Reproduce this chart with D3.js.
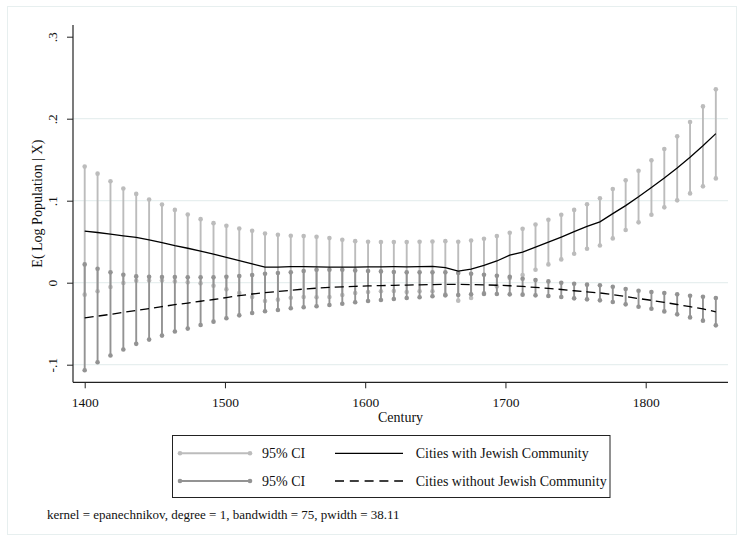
<!DOCTYPE html>
<html>
<head>
<meta charset="utf-8">
<script src="https://cdn.jsdelivr.net/npm/d3@7"></script>
<style>
  html, body { margin: 0; padding: 0; background: #fff; }
  svg { display: block; }
  svg text { font-family: 'Liberation Serif', 'DejaVu Serif', serif !important; fill: #111; }
</style>
</head>
<body>
<svg id="chart" width="743" height="541" font-family="Liberation Serif, DejaVu Serif, serif"></svg>
<script>
// Grid of evaluation points (century axis)
const years = [1400, 1409.18, 1418.37, 1427.55, 1436.73, 1445.92, 1455.10, 1464.29, 1473.47, 1482.65,
  1491.84, 1501.02, 1510.20, 1519.39, 1528.57, 1537.76, 1546.94, 1556.12, 1565.31, 1574.49,
  1583.67, 1592.86, 1602.04, 1611.22, 1620.41, 1629.59, 1638.78, 1647.96, 1657.14, 1666.33,
  1675.51, 1684.69, 1693.88, 1703.06, 1712.24, 1721.43, 1730.61, 1739.80, 1748.98, 1758.16,
  1767.35, 1776.53, 1785.71, 1794.90, 1804.08, 1813.27, 1822.45, 1831.63, 1840.82, 1850];

// Cities with Jewish Community: fitted mean and 95% CI (light grey)
const meanWith = [0.0630, 0.0612, 0.0592, 0.0572, 0.0552, 0.0522, 0.0490, 0.0452, 0.0420, 0.0386,
  0.0348, 0.0309, 0.0270, 0.0230, 0.0190, 0.0191, 0.0195, 0.0197, 0.0194, 0.0190,
  0.0190, 0.0191, 0.0193, 0.0194, 0.0195, 0.0193, 0.0196, 0.0198, 0.0183, 0.0142,
  0.0165, 0.0210, 0.0265, 0.0335, 0.0373, 0.0433, 0.0495, 0.0557, 0.0622, 0.0686,
  0.0742, 0.0842, 0.0940, 0.1048, 0.1162, 0.1278, 0.1400, 0.1530, 0.1670, 0.1818];
const ciHiWith = [0.1416, 0.1330, 0.1237, 0.1148, 0.1083, 0.1014, 0.0953, 0.0888, 0.0832, 0.0775,
  0.0726, 0.0694, 0.0661, 0.0633, 0.0600, 0.0584, 0.0572, 0.0568, 0.0560, 0.0544,
  0.0523, 0.0507, 0.0499, 0.0495, 0.0495, 0.0495, 0.0499, 0.0503, 0.0507, 0.0499,
  0.0515, 0.0536, 0.0568, 0.0609, 0.0657, 0.0710, 0.0767, 0.0828, 0.0888, 0.0957,
  0.1030, 0.1142, 0.1248, 0.1366, 0.1492, 0.1630, 0.1785, 0.1959, 0.2150, 0.2358];
const ciLoWith = [-0.0146, -0.0105, -0.0053, -0.0004, 0.0024, 0.0028, 0.0028, 0.0016, 0.0004, -0.0008,
  -0.0037, -0.0081, -0.0126, -0.0174, -0.0223, -0.0207, -0.0183, -0.0174, -0.0178, -0.0174,
  -0.0150, -0.0126, -0.0114, -0.0105, -0.0101, -0.0114, -0.0105, -0.0105, -0.0146, -0.0219,
  -0.0187, -0.0126, -0.0045, 0.0057, 0.0093, 0.0158, 0.0223, 0.0284, 0.0353, 0.0414,
  0.0454, 0.0540, 0.0642, 0.0736, 0.0829, 0.0919, 0.1004, 0.1089, 0.1175, 0.1272];

// Cities without Jewish Community: fitted mean and 95% CI (dark grey)
const meanWithout = [-0.0428, -0.0408, -0.0386, -0.0362, -0.0338, -0.0315, -0.0292, -0.0268, -0.0248, -0.0226,
  -0.0205, -0.0181, -0.0158, -0.0138, -0.0121, -0.0107, -0.0092, -0.0078, -0.0067, -0.0058,
  -0.0050, -0.0044, -0.0039, -0.0035, -0.0032, -0.0029, -0.0026, -0.0023, -0.0021, -0.0021,
  -0.0023, -0.0026, -0.0031, -0.0037, -0.0046, -0.0057, -0.0069, -0.0083, -0.0098, -0.0111,
  -0.0125, -0.0145, -0.0168, -0.0193, -0.0215, -0.0240, -0.0266, -0.0293, -0.0320, -0.0355];
const ciHiWithout = [0.0223, 0.0170, 0.0126, 0.0097, 0.0077, 0.0073, 0.0070, 0.0070, 0.0065, 0.0065,
  0.0065, 0.0073, 0.0081, 0.0093, 0.0110, 0.0118, 0.0126, 0.0142, 0.0158, 0.0158,
  0.0158, 0.0150, 0.0142, 0.0138, 0.0130, 0.0126, 0.0126, 0.0126, 0.0126, 0.0118,
  0.0110, 0.0097, 0.0085, 0.0073, 0.0049, 0.0032, 0.0016, 0.0000, -0.0012, -0.0024,
  -0.0032, -0.0049, -0.0077, -0.0098, -0.0114, -0.0126, -0.0142, -0.0159, -0.0171, -0.0187];
const ciLoWithout = [-0.1067, -0.0970, -0.0888, -0.0815, -0.0746, -0.0694, -0.0645, -0.0596, -0.0560, -0.0515,
  -0.0475, -0.0434, -0.0398, -0.0369, -0.0349, -0.0333, -0.0312, -0.0300, -0.0288, -0.0272,
  -0.0256, -0.0239, -0.0223, -0.0211, -0.0199, -0.0187, -0.0178, -0.0166, -0.0154, -0.0150,
  -0.0142, -0.0138, -0.0138, -0.0142, -0.0146, -0.0154, -0.0162, -0.0174, -0.0191, -0.0203,
  -0.0215, -0.0235, -0.0264, -0.0293, -0.0317, -0.0350, -0.0386, -0.0423, -0.0463, -0.0520];

const xTicks = [1400, 1500, 1600, 1700, 1800];
const yTicks = [-0.1, 0, 0.1, 0.2, 0.3];
const yTickLabels = ["-.1", "0", ".1", ".2", ".3"];
const legendLabels = ["95% CI", "Cities with Jewish Community", "95% CI", "Cities without Jewish Community"];
const yTitle = "E( Log Population | X)";
const xTitle = "Century";
const note = "kernel = epanechnikov, degree = 1, bandwidth = 75, pwidth = 38.11";

const lightGrey = "#bcbcbc";
const darkGrey = "#939393";
const gridColor = "#e7efef";
const FONT = "Liberation Serif, DejaVu Serif, serif";

const svg = d3.select("#chart");

// plot region
const plot = { left: 73, right: 728, top: 25, bottom: 382.3 };

const x = d3.scaleLinear().domain([1400, 1800]).range([84.7, 645.7]);
const y = d3.scaleLinear().domain([-0.1, 0.3]).range([364.7, 36.7]);

// outer graph-region frame
svg.append("rect")
  .attr("x", 7.5).attr("y", 6.5).attr("width", 729).attr("height", 528)
  .attr("fill", "none").attr("stroke", gridColor).attr("stroke-width", 1);

// gridlines (not at the top extreme)
svg.append("g").selectAll("line")
  .data(yTicks.filter(d => d < 0.25))
  .join("line")
  .attr("x1", plot.left).attr("x2", plot.right)
  .attr("y1", d => y(d)).attr("y2", d => y(d))
  .attr("stroke", gridColor).attr("stroke-width", 1.2);

// Y axis
const yAxis = d3.axisLeft(y).tickValues(yTicks)
  .tickFormat((d, i) => yTickLabels[i]).tickSize(6).tickSizeOuter(0);
const gy = svg.append("g").attr("transform", `translate(${plot.left},0)`).call(yAxis)
  .attr("font-family", FONT);
gy.select(".domain").remove();
gy.selectAll(".tick line").attr("stroke", "#222").attr("stroke-width", 1);
gy.selectAll(".tick text")
  .attr("font-family", FONT)
  .attr("font-size", 13.5)
  .attr("fill", "#222")
  .attr("x", 0).attr("dy", null)
  .attr("text-anchor", "middle")
  .attr("dominant-baseline", "central")
  .attr("transform", "translate(-21,0) rotate(-90)");
svg.append("line")
  .attr("x1", plot.left).attr("x2", plot.left)
  .attr("y1", plot.top).attr("y2", plot.bottom)
  .attr("stroke", "#222").attr("stroke-width", 1.2);

// X axis
const xAxis = d3.axisBottom(x).tickValues(xTicks).tickFormat(d3.format("d")).tickSize(6).tickSizeOuter(0);
const gx = svg.append("g").attr("transform", `translate(0,${plot.bottom})`).call(xAxis)
  .attr("font-family", FONT);
gx.select(".domain").remove();
gx.selectAll(".tick line").attr("stroke", "#222").attr("stroke-width", 1);
gx.selectAll(".tick text")
  .attr("font-family", FONT)
  .attr("font-size", 13.5)
  .attr("fill", "#222")
  .attr("y", 20).attr("dy", "0.32em");
svg.append("line")
  .attr("x1", plot.left).attr("x2", plot.right)
  .attr("y1", plot.bottom).attr("y2", plot.bottom)
  .attr("stroke", "#222").attr("stroke-width", 1.2);

// axis titles
svg.append("text")
  .attr("transform", `translate(37,${(plot.top + plot.bottom) / 2}) rotate(-90)`)
  .attr("text-anchor", "middle").attr("dominant-baseline", "central")
  .attr("font-family", FONT).attr("font-size", 14).text(yTitle);
svg.append("text")
  .attr("x", (plot.left + plot.right) / 2).attr("y", 417)
  .attr("text-anchor", "middle").attr("dominant-baseline", "central")
  .attr("font-family", FONT).attr("font-size", 14).text(xTitle);

// CI spikes with dot caps
function drawCI(lo, hi, color) {
  const g = svg.append("g");
  const data = years.map((yr, i) => ({ yr, lo: lo[i], hi: hi[i] }));
  g.selectAll("line").data(data).join("line")
    .attr("x1", d => x(d.yr)).attr("x2", d => x(d.yr))
    .attr("y1", d => y(d.lo)).attr("y2", d => y(d.hi))
    .attr("stroke", color).attr("stroke-width", 1.9);
  g.selectAll("circle.hi").data(data).join("circle").attr("class", "hi")
    .attr("cx", d => x(d.yr)).attr("cy", d => y(d.hi)).attr("r", 2.3).attr("fill", color);
  g.selectAll("circle.lo").data(data).join("circle").attr("class", "lo")
    .attr("cx", d => x(d.yr)).attr("cy", d => y(d.lo)).attr("r", 2.3).attr("fill", color);
}
drawCI(ciLoWith, ciHiWith, lightGrey);
drawCI(ciLoWithout, ciHiWithout, darkGrey);

// fitted lines
const line = d3.line().x((d, i) => x(years[i])).y(d => y(d));
svg.append("path").datum(meanWith).attr("d", line)
  .attr("fill", "none").attr("stroke", "#000").attr("stroke-width", 1.3);
svg.append("path").datum(meanWithout).attr("d", line)
  .attr("fill", "none").attr("stroke", "#000").attr("stroke-width", 1.3)
  .attr("stroke-dasharray", "9,5");

// legend
const lg = svg.append("g").attr("font-family", FONT);
lg.append("rect").attr("x", 172.5).attr("y", 435.5).attr("width", 437.5).attr("height", 62)
  .attr("fill", "#fff").attr("stroke", "#222").attr("stroke-width", 1);
const rows = [453.3, 481];
[lightGrey, darkGrey].forEach((c, i) => {
  lg.append("line").attr("x1", 180).attr("x2", 250).attr("y1", rows[i]).attr("y2", rows[i])
    .attr("stroke", c).attr("stroke-width", 1.9);
  lg.append("circle").attr("cx", 180).attr("cy", rows[i]).attr("r", 2.3).attr("fill", c);
  lg.append("circle").attr("cx", 250).attr("cy", rows[i]).attr("r", 2.3).attr("fill", c);
  lg.append("text").attr("x", 262).attr("y", rows[i]).attr("dominant-baseline", "central")
    .attr("font-family", FONT).attr("font-size", 14).text(legendLabels[i * 2]);
});
lg.append("line").attr("x1", 335).attr("x2", 403).attr("y1", rows[0]).attr("y2", rows[0])
  .attr("stroke", "#000").attr("stroke-width", 1.3);
lg.append("line").attr("x1", 335).attr("x2", 403).attr("y1", rows[1]).attr("y2", rows[1])
  .attr("stroke", "#000").attr("stroke-width", 1.3).attr("stroke-dasharray", "9,5.8");
lg.append("text").attr("x", 415.7).attr("y", rows[0]).attr("dominant-baseline", "central")
  .attr("font-family", FONT).attr("font-size", 14).text(legendLabels[1]);
lg.append("text").attr("x", 415.7).attr("y", rows[1]).attr("dominant-baseline", "central")
  .attr("font-family", FONT).attr("font-size", 14).text(legendLabels[3]);

// note
svg.append("text").attr("x", 47).attr("y", 514).attr("dominant-baseline", "central")
  .attr("font-family", FONT).attr("font-size", 13).text(note);
</script>
</body>
</html>
